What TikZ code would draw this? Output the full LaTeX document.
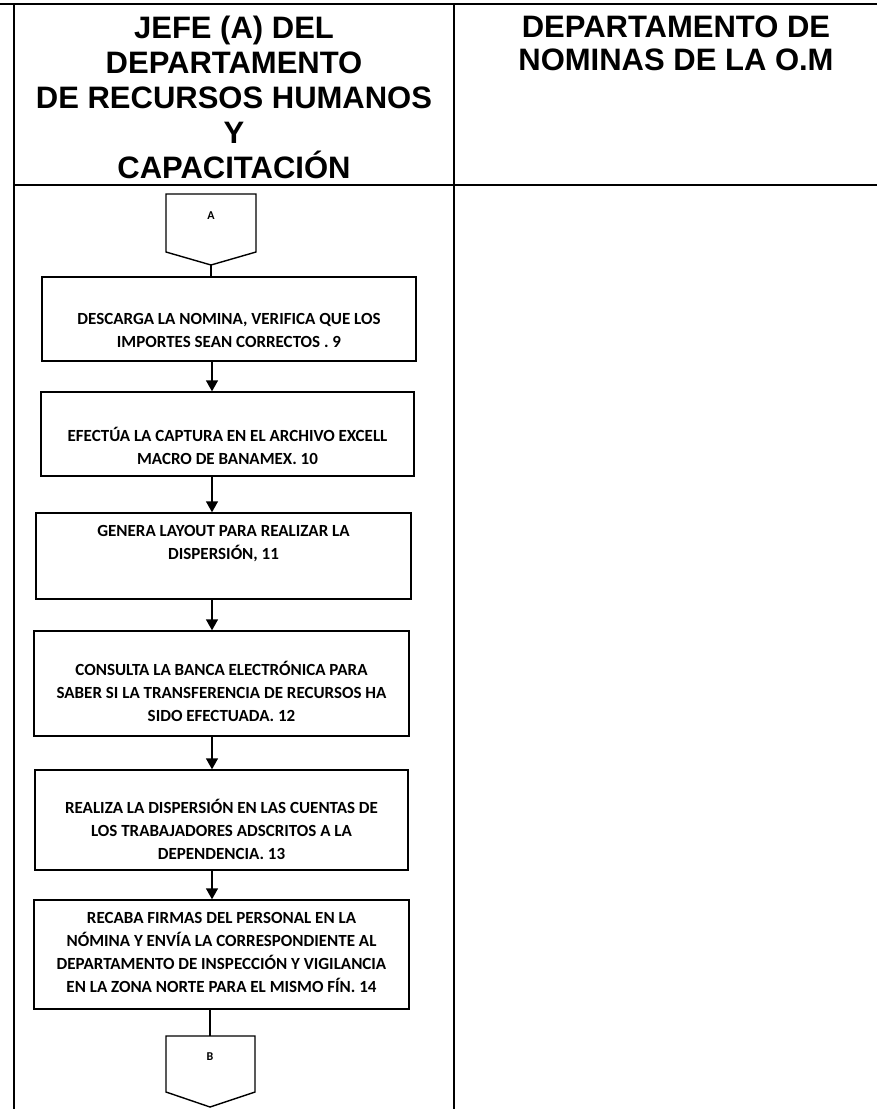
\documentclass[tikz,border=0pt]{standalone}
\usepackage{fontspec}
\usetikzlibrary{arrows.meta}
\newfontfamily\hdrfont{Liberation Sans}
\newfontfamily\boxfont{Carlito}
\newcommand\hs{\rule[-6pt]{0pt}{28.2pt}}
\newcommand\rs{\rule[-5pt]{0pt}{27.2pt}}
\newcommand\bs{\rule[-5pt]{0pt}{15.8pt}}
\begin{document}
\begin{tikzpicture}[x=1pt,y=-1pt,
  lane/.style={line width=2.2pt},
  procbox/.style={draw, line width=1.4pt, inner sep=0pt},
  btxt/.style={font=\boxfont\bfseries\fontsize{17}{23}\selectfont, align=center, inner sep=0pt},
  htxt/.style={font=\hdrfont\bfseries\fontsize{31}{35}\selectfont, align=center, inner sep=0pt},
  rtxt/.style={font=\hdrfont\bfseries\fontsize{31}{33}\selectfont, align=center, inner sep=0pt},
  ctxt/.style={font=\boxfont\bfseries\fontsize{12}{14}\selectfont, inner sep=0pt},
  arr/.style={line width=1.4pt, -{Triangle[length=11pt,width=12pt]}},
  link/.style={line width=1.4pt},
  conn/.style={draw, line width=1.4pt, line join=miter}]
\useasboundingbox (0,0) rectangle (877,1109);
\fill[white] (0,0) rectangle (877,1109);

% swimlanes
\draw[lane] (0,4) -- (877,4);
\draw[lane] (14,4) -- (14,1109);
\draw[lane] (454,4) -- (454,1109);
\draw[lane] (14,185) -- (877,185);

% headers
\node[htxt] (h1) at (234,100) {\hs JEFE (A) DEL\\\hs DEPARTAMENTO\\\hs DE RECURSOS HUMANOS\\\hs Y\\\hs CAPACITACIÓN};
\node[rtxt] (h2) at (676,45) {\rs DEPARTAMENTO DE\\\rs NOMINAS DE LA O.M};

% connector A
\draw[conn] (166,194) -- (256,194) -- (256,252) -- (211,265) -- (166,252) -- cycle;
\node[ctxt] (A) at (211,216) {A};
\coordinate (Atip) at (211,265);
\coordinate (spine) at (212,0);

% process boxes
\node[procbox, minimum width=374pt, minimum height=84pt] (b9) at (229,319) {};
\node[btxt] (t9) at (229,333) {\bs DESCARGA LA NOMINA, VERIFICA QUE LOS\\\bs IMPORTES SEAN CORRECTOS . 9};

\node[procbox, minimum width=373pt, minimum height=84pt] (b10) at (227.5,434) {};
\node[btxt] (t10) at (227.5,448) {\bs EFECTÚA LA CAPTURA EN EL ARCHIVO EXCELL\\\bs MACRO DE BANAMEX. 10};

\node[procbox, minimum width=375pt, minimum height=86pt] (b11) at (223.5,556) {};
\node[btxt] (t11) at (223.5,545) {\bs GENERA LAYOUT PARA REALIZAR LA\\\bs DISPERSIÓN, 11};

\node[procbox, minimum width=375pt, minimum height=105pt] (b12) at (221.5,683.5) {};
\node[btxt] (t12) at (221.5,694) {\bs CONSULTA LA BANCA ELECTRÓNICA PARA\\\bs SABER SI LA TRANSFERENCIA DE RECURSOS HA\\\bs SIDO EFECTUADA. 12};

\node[procbox, minimum width=373pt, minimum height=100pt] (b13) at (221.5,820) {};
\node[btxt] (t13) at (221.5,831.5) {\bs REALIZA LA DISPERSIÓN EN LAS CUENTAS DE\\\bs LOS TRABAJADORES ADSCRITOS A LA\\\bs DEPENDENCIA. 13};

\node[procbox, minimum width=375pt, minimum height=109pt] (b14) at (221.5,954.5) {};
\node[btxt] (t14) at (221.5,955) {\bs RECABA FIRMAS DEL PERSONAL EN LA\\\bs NÓMINA Y ENVÍA LA CORRESPONDIENTE AL\\\bs DEPARTAMENTO DE INSPECCIÓN Y VIGILANCIA\\\bs EN LA ZONA NORTE PARA EL MISMO FÍN. 14};

% connector B
\draw[conn] (166,1036) -- (255,1036) -- (255,1092) -- (210,1107) -- (166,1092) -- cycle;
\node[ctxt] (B) at (210,1057) {B};
\coordinate (Btop) at (210,1036);

% flow
\draw[link] (Atip) -- (Atip |- b9.north);
\draw[arr] (b9.south -| spine) -- (b10.north -| spine);
\draw[arr] (b10.south -| spine) -- (b11.north -| spine);
\draw[arr] (b11.south -| spine) -- (b12.north -| spine);
\draw[arr] (b12.south -| spine) -- (b13.north -| spine);
\draw[arr] (b13.south -| spine) -- (b14.north -| spine);
\draw[link] (b14.south -| Btop) -- (Btop);
\end{tikzpicture}
\end{document}
